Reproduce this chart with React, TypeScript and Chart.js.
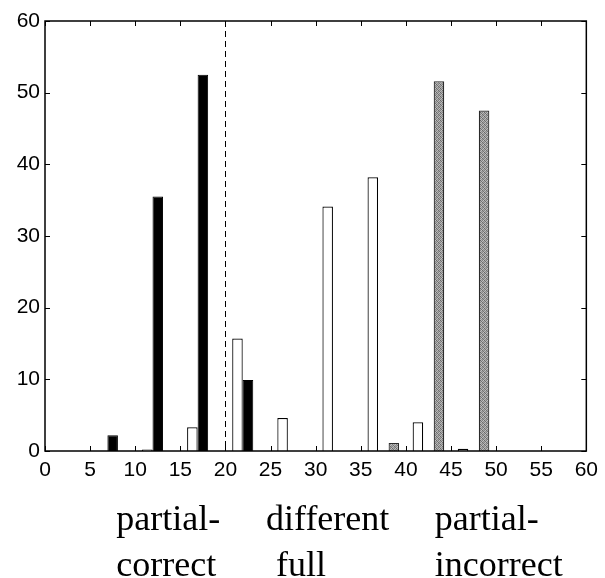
import React, { useEffect, useRef } from "react";
import { Chart, registerables } from "chart.js";

Chart.register(...registerables);

// Bin centres (5-unit bins from 0 to 60)
const binCenters = [2.5, 7.5, 12.5, 17.5, 22.5, 27.5, 32.5, 37.5, 42.5, 47.5, 52.5, 57.5];

// Percentages per bin for the three response types
const whiteValues = [0, 0, 0.2, 3.3, 15.7, 4.6, 34.1, 38.2, 4.0, 0.3, 0, 0];
const blackValues = [0, 2.2, 35.5, 52.5, 9.9, 0, 0, 0, 0, 0, 0, 0];
const grayValues = [0, 0, 0, 0, 0, 0, 0, 1.1, 51.6, 47.5, 0, 0];

const xTickValues = [0, 5, 10, 15, 20, 25, 30, 35, 40, 45, 50, 55, 60];
const yTickValues = [0, 10, 20, 30, 40, 50, 60];
const dividerX = 20;

// Group captions under the axis: text, left edge in x units, row
const captionTexts = ["partial-", "correct", "different", "full", "partial-", "incorrect"];
const captionX = [7.9, 7.9, 24.5, 25.6, 43.2, 43.2];
const captionRow = [0, 1, 0, 1, 0, 1];

const toPoints = (vals: number[]) => vals.map((y, i) => ({ x: binCenters[i], y }));

// Stippled grey fill for the third series
const stippleShades = [
  [0x66, 0xb0, 0x80, 0xc4],
  [0xa8, 0x70, 0xbc, 0x8a],
  [0x84, 0xc0, 0x6c, 0xa4],
  [0xb8, 0x90, 0xa0, 0x74],
];
function makeStipple(): CanvasPattern | string {
  const c = document.createElement("canvas");
  c.width = 4;
  c.height = 4;
  const g = c.getContext("2d");
  if (!g) return "#8e8e8e";
  stippleShades.forEach((row, y) =>
    row.forEach((v, x) => {
      g.fillStyle = `rgb(${v},${v},${v})`;
      g.fillRect(x, y, 1, 1);
    })
  );
  return g.createPattern(c, "repeat") || "#8e8e8e";
}

const framePlugin = {
  id: "matlabFrame",
  afterDatasetsDraw(chart: any) {
    const { ctx, chartArea } = chart;
    const xs = chart.scales.x;
    const ys = chart.scales.y;
    const { left, right, top, bottom } = chartArea;
    ctx.save();
    ctx.strokeStyle = "#000";
    ctx.lineWidth = 1.5;
    ctx.strokeRect(left, top, right - left, bottom - top);

    ctx.lineWidth = 1;
    const tl = 5;
    ctx.beginPath();
    xTickValues.forEach((v) => {
      const px = Math.round(xs.getPixelForValue(v)) + 0.5;
      ctx.moveTo(px, bottom);
      ctx.lineTo(px, bottom - tl);
      ctx.moveTo(px, top);
      ctx.lineTo(px, top + tl);
    });
    yTickValues.forEach((v) => {
      const py = Math.round(ys.getPixelForValue(v)) + 0.5;
      ctx.moveTo(left, py);
      ctx.lineTo(left + tl, py);
      ctx.moveTo(right, py);
      ctx.lineTo(right - tl, py);
    });
    ctx.stroke();

    // dashed divider
    const dx = Math.round(xs.getPixelForValue(dividerX)) + 0.5;
    ctx.setLineDash([6, 4]);
    ctx.beginPath();
    ctx.moveTo(dx, top);
    ctx.lineTo(dx, bottom);
    ctx.stroke();
    ctx.restore();
  },
  afterDraw(chart: any) {
    const { ctx, chartArea } = chart;
    const xs = chart.scales.x;
    ctx.save();
    ctx.fillStyle = "#000";
    ctx.font = '36px "Liberation Serif", "Times New Roman", serif';
    ctx.textAlign = "left";
    ctx.textBaseline = "alphabetic";
    captionTexts.forEach((t, i) => {
      const px = xs.getPixelForValue(captionX[i]);
      const py = chartArea.bottom + 79 + captionRow[i] * 46;
      ctx.fillText(t, px, py);
    });
    ctx.restore();
  },
};

export default function App() {
  const canvasRef = useRef<HTMLCanvasElement | null>(null);

  useEffect(() => {
    if (!canvasRef.current) return;
    const chart = new Chart(canvasRef.current, {
      type: "bar",
      data: {
        datasets: [
          {
            data: toPoints(whiteValues),
            backgroundColor: "#ffffff",
            borderColor: "#000000",
            borderWidth: 1.2,
          },
          {
            data: toPoints(blackValues),
            backgroundColor: "#000000",
            borderColor: "#000000",
            borderWidth: 1,
          },
          {
            data: toPoints(grayValues),
            backgroundColor: makeStipple(),
            borderColor: "#2a2a2a",
            borderWidth: 1.2,
          },
        ],
      },
      options: {
        responsive: false,
        animation: false,
        categoryPercentage: 0.7,
        barPercentage: 1,
        layout: { padding: { top: 21, right: 16, bottom: 0, left: 0 } },
        plugins: { legend: { display: false }, tooltip: { enabled: false } },
        scales: {
          x: {
            type: "linear",
            min: 0,
            max: 60,
            offset: false,
            grid: { display: false, drawTicks: false },
            border: { display: false },
            afterFit: (s: any) => {
              s.height = 127;
            },
            ticks: {
              stepSize: 5,
              color: "#000",
              padding: 7,
              maxRotation: 0,
              autoSkip: false,
              font: { family: '"Liberation Sans", Arial, sans-serif', size: 21 },
            },
          },
          y: {
            min: 0,
            max: 60,
            grid: { display: false, drawTicks: false },
            border: { display: false },
            afterFit: (s: any) => {
              s.width = 45;
            },
            ticks: {
              stepSize: 10,
              color: "#000",
              padding: 5,
              font: { family: '"Liberation Sans", Arial, sans-serif', size: 21 },
            },
          },
        },
      } as any,
      plugins: [framePlugin],
    });
    return () => chart.destroy();
  }, []);

  return (
    <div style={{ position: "absolute", left: 0, top: 0, width: 605, height: 578, background: "#fff" }}>
      <canvas ref={canvasRef} width={605} height={578} style={{ width: 605, height: 578 }} />
    </div>
  );
}
